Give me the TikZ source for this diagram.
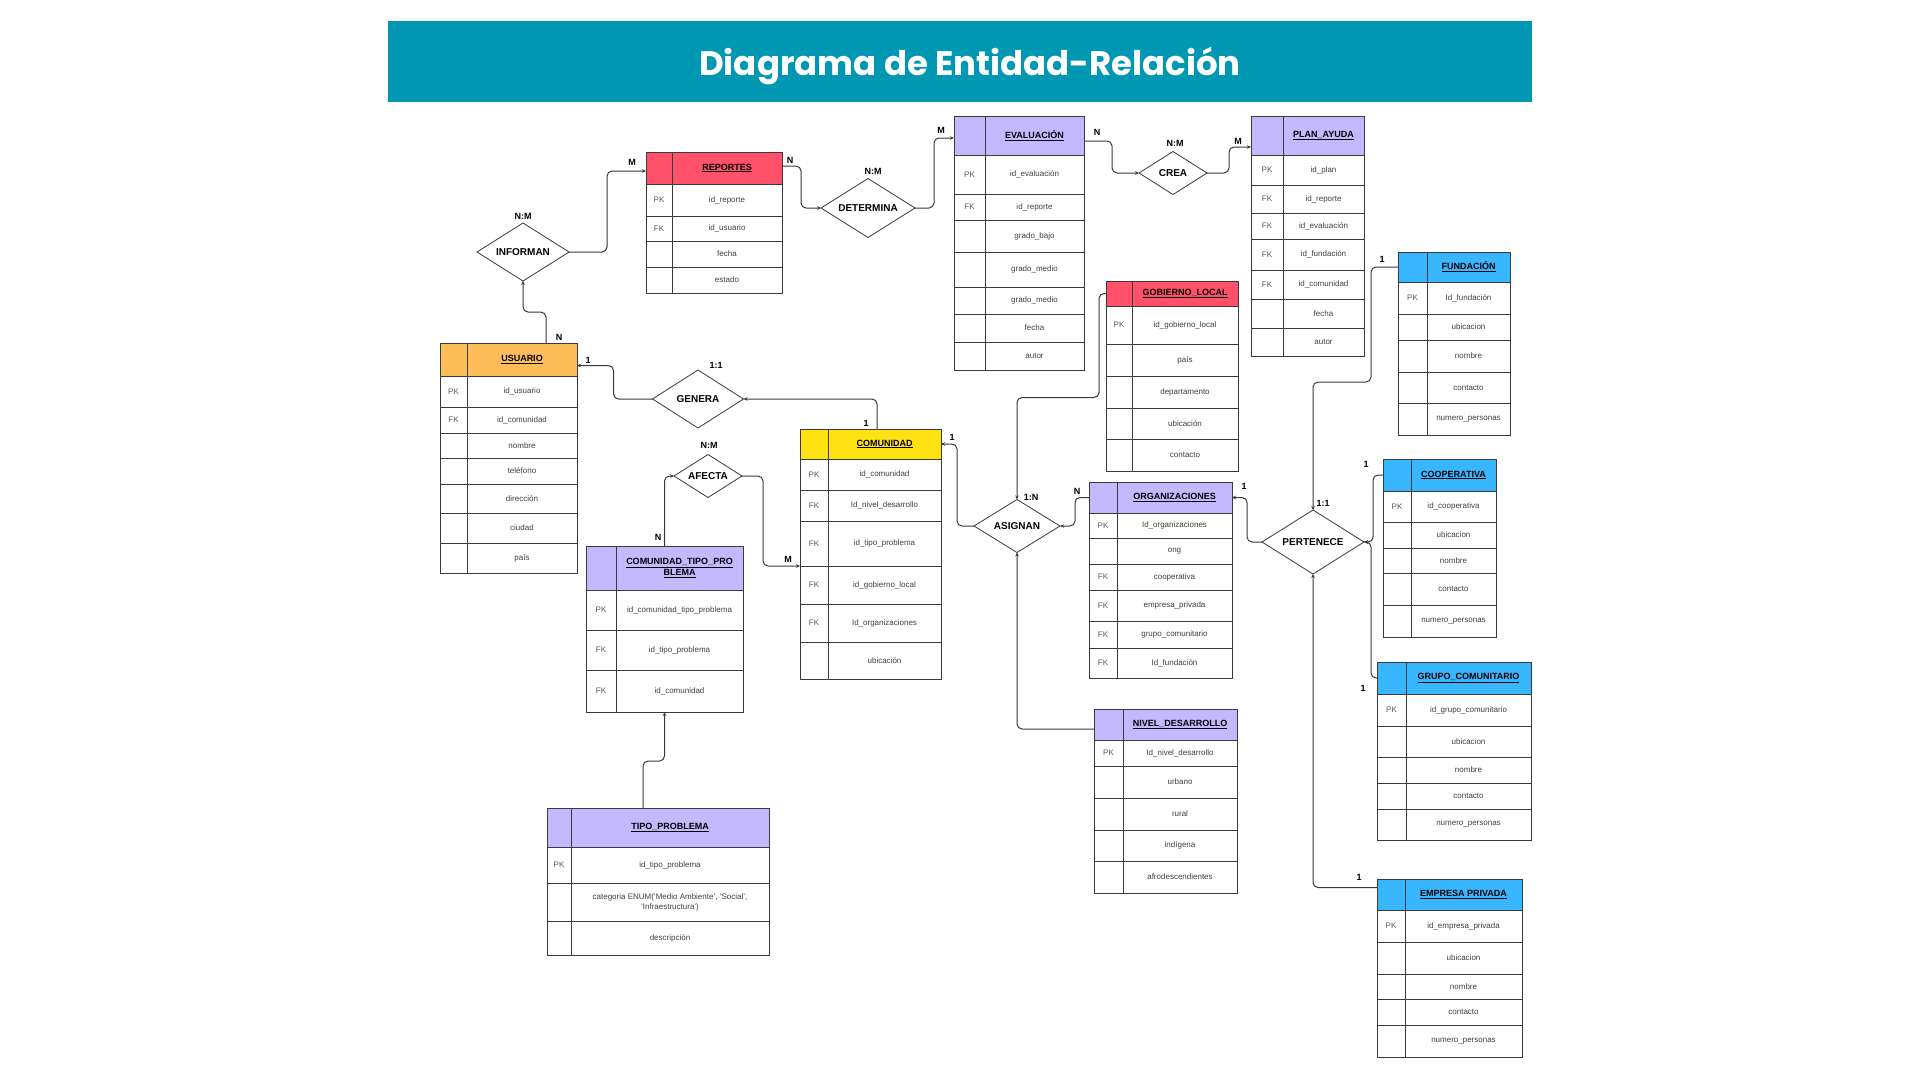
\documentclass[tikz,border=0pt]{standalone}
\usepackage{fontspec}
\setmainfont{Liberation Sans}
\newfontfamily\titlefont{Poppins}
\usetikzlibrary{shapes.geometric,arrows.meta,calc}
\definecolor{cTitle}{HTML}{0097B2}
\definecolor{cOrange}{HTML}{FFBD59}
\definecolor{cPink}{HTML}{FF5169}
\definecolor{cPurple}{HTML}{C4B8FF}
\definecolor{cYellow}{HTML}{FFE212}
\definecolor{cBlue}{HTML}{38B6FF}
\definecolor{cLine}{HTML}{3A3A3A}
\tikzset{
  hdrbox/.style={draw=cLine, line width=0.8pt, inner sep=0pt, outer sep=0pt},
  rowbox/.style={draw=cLine, fill=white, line width=0.8pt, inner sep=0pt, outer sep=0pt},
  tline/.style={draw=cLine, line width=0.8pt},
  hdrtxt/.style={font=\fontsize{9}{11}\selectfont\bfseries, align=center, text=black},
  rowtxt/.style={font=\fontsize{8}{10}\selectfont, text=black!75, align=center},
  keytxt/.style={font=\fontsize{8}{9}\selectfont, text=black!65},
  rel/.style={diamond, shape aspect=1.6, draw=cLine, fill=white, line width=0.8pt, inner sep=0pt, outer sep=0pt, font=\fontsize{10}{12}\selectfont\bfseries},
  card/.style={font=\fontsize{9}{10}\selectfont\bfseries},
  conn/.style={draw=cLine, line width=1pt, rounded corners=5pt, -{Stealth[length=4pt,width=3.5pt]}}
}
% #1 name, #2 x left, #3 x divider, #4 x right, #5 y top, #6 y header bottom, #7 colour, #8 title, #9 rows
\newcommand{\ertable}[9]{%
  \node[hdrbox, fill=#7, minimum width={(#4-#2)*1pt}, minimum height={(#6-#5)*1pt}] (#1) at ({(#2+#4)/2},{(#5+#6)/2}) {};
  \draw[tline] (#3,#5) -- (#3,#6);
  \node[hdrtxt] (#1-t) at ({(#3+#4)/2},{(#5+#6)/2}) {#8};
  \foreach \yb/\k/\t [remember=\yb as \ya (initially #6), count=\i] in {#9} {
    \node[rowbox, minimum width={(#4-#2)*1pt}, minimum height={(\yb-\ya)*1pt}] (#1-\i) at ({(#2+#4)/2},{(\ya+\yb)/2}) {};
    \draw[tline] (#3,\ya) -- (#3,\yb);
    \node[keytxt] (#1-k\i) at ({(#2+#3)/2},{(\ya+\yb)/2}) {\k};
    \node[rowtxt] (#1-v\i) at ({(#3+#4)/2},{(\ya+\yb)/2}) {\t};
  }
}
\begin{document}
\begin{tikzpicture}[x=1pt,y=-1pt]
\useasboundingbox (0,0) rectangle (1920,1080);
\fill[white] (0,0) rectangle (1920,1080);
% title
\fill[cTitle] (388,21) rectangle (1532,102);
\node[font=\titlefont\bfseries\fontsize{34}{40}\selectfont, text=white] (title) at (970,66) {Diagrama de Entidad-Relación};

% tables
\ertable{usuario}{440}{467}{577}{343}{376}{cOrange}{\underline{USUARIO}}
  {407/PK/id\_usuario, 433/FK/id\_comunidad, 458//nombre, 484//teléfono, 513//dirección, 543//ciudad, 573//país}
\ertable{reportes}{646}{672}{782}{152}{184}{cPink}{\underline{REPORTES}}
  {216/PK/id\_reporte, 241/FK/id\_usuario, 267//fecha, 293//estado}
\ertable{evaluacion}{954}{985}{1084}{116}{155}{cPurple}{\underline{EVALUACIÓN}}
  {194/PK/id\_evaluación, 220/FK/id\_reporte, 252//grado\_bajo, 287//grado\_medio, 314//grado\_medio, 342//fecha, 370//autor}
\ertable{plan}{1251}{1283}{1364}{116}{155}{cPurple}{\underline{PLAN\_AYUDA}}
  {185/PK/id\_plan, 213/FK/id\_reporte, 239/FK/id\_evaluación, 270/FK/id\_fundación, 299/FK/id\_comunidad, 328//fecha, 356//autor}
\ertable{gobierno}{1106}{1132}{1238}{281}{306}{cPink}{\underline{GOBIERNO\_LOCAL}}
  {344/PK/id\_gobierno\_local, 376//país, 408//departamento, 439//ubicación, 471//contacto}
\ertable{fundacion}{1398}{1427}{1510}{252}{282}{cBlue}{\underline{FUNDACIÓN}}
  {314/PK/Id\_fundación, 340//ubicacion, 372//nombre, 403//contacto, 435//numero\_personas}
\ertable{comunidad}{800}{828}{941}{429}{459}{cYellow}{\underline{COMUNIDAD}}
  {490/PK/id\_comunidad, 521/FK/Id\_nivel\_desarrollo, 566/FK/id\_tipo\_problema, 604/FK/id\_gobierno\_local, 642/FK/Id\_organizaciones, 679//ubicación}
\ertable{ctp}{586}{616}{743}{546}{590}{cPurple}{\underline{COMUNIDAD\_TIPO\_PRO}\\\underline{BLEMA}}
  {630/PK/id\_comunidad\_tipo\_problema, 670/FK/id\_tipo\_problema, 712/FK/id\_comunidad}
\ertable{tipo}{547}{571}{769}{808}{847}{cPurple}{\underline{TIPO\_PROBLEMA}}
  {883/PK/id\_tipo\_problema, 921//{categoria ENUM('Medio Ambiente', 'Social',\\'Infraestructura')}, 955//descripción}
\ertable{org}{1089}{1117}{1232}{482}{513}{cPurple}{\underline{ORGANIZACIONES}}
  {538/PK/Id\_organizaciones, 564//ong, 590/FK/cooperativa, 621/FK/empresa\_privada, 648/FK/grupo\_comunitario, 678/FK/Id\_fundación}
\ertable{nivel}{1094}{1123}{1237}{709}{740}{cPurple}{\underline{NIVEL\_DESARROLLO}}
  {766/PK/Id\_nivel\_desarrollo, 798//urbano, 830//rural, 861//indígena, 893//afrodescendientes}
\ertable{cooperativa}{1383}{1411}{1496}{459}{491}{cBlue}{\underline{COOPERATIVA}}
  {522/PK/id\_cooperativa, 548//ubicacion, 573//nombre, 605//contacto, 637//numero\_personas}
\ertable{grupo}{1377}{1406}{1531}{662}{694}{cBlue}{\underline{GRUPO\_COMUNITARIO}}
  {726/PK/id\_grupo\_comunitario, 757//ubicacion, 783//nombre, 809//contacto, 840//numero\_personas}
\ertable{empresa}{1377}{1405}{1522}{879}{910}{cBlue}{\underline{EMPRESA PRIVADA}}
  {942/PK/id\_empresa\_privada, 974//ubicacion, 999//nombre, 1025//contacto, 1057//numero\_personas}

% relationships
\node[rel, minimum width=92pt, minimum height=58pt] (informan) at (523,252) {INFORMAN};
\node[rel, minimum width=94pt, minimum height=59pt] (determina) at (868,208) {DETERMINA};
\node[rel, minimum width=68pt, minimum height=43pt] (crea) at (1173,173) {CREA};
\node[rel, minimum width=91pt, minimum height=58pt] (genera) at (698,399) {GENERA};
\node[rel, minimum width=68pt, minimum height=43pt] (afecta) at (708,476) {AFECTA};
\node[rel, minimum width=86pt, minimum height=53pt] (asignan) at (1017,526) {ASIGNAN};
\node[rel, minimum width=102pt, minimum height=64pt] (pertenece) at (1313,542) {PERTENECE};

\node[card] (r1) at (523,216) {N:M};
\node[card] (r2) at (873,171) {N:M};
\node[card] (r3) at (1175,143) {N:M};
\node[card] (r4) at (716,365) {1:1};
\node[card] (r5) at (709,445) {N:M};
\node[card] (r6) at (1031,497) {1:N};
\node[card] (r7) at (1323,503) {1:1};

% cardinalities
\node[card] (c1) at (632,162) {M};
\node[card] (c2) at (790,160) {N};
\node[card] (c3) at (941,130) {M};
\node[card] (c4) at (1097,132) {N};
\node[card] (c5) at (1238,141) {M};
\node[card] (c6) at (559,337) {N};
\node[card] (c7) at (588,360) {1};
\node[card] (c8) at (866,423) {1};
\node[card] (c9) at (952,437) {1};
\node[card] (c10) at (658,537) {N};
\node[card] (c11) at (788,559) {M};
\node[card] (c12) at (1077,491) {N};
\node[card] (c13) at (1244,486) {1};
\node[card] (c14) at (1382,259) {1};
\node[card] (c15) at (1366,464) {1};
\node[card] (c16) at (1363,688) {1};
\node[card] (c17) at (1359,877) {1};

% connectors
\draw[conn] (informan.east) -- ++(38,0) |- ([yshift=-3pt]reportes.west);
\draw[conn] ([xshift=37.5pt]usuario.north) -- ++(0,-31) -| (informan.south);
\draw[conn] ([yshift=2pt]reportes.east) -- ++(19,0) |- (determina.west);
\draw[conn] (determina.east) -- ++(19,0) |- ([yshift=-2.5pt]evaluacion.west);
\draw[conn] ([yshift=-5.5pt]evaluacion.east) -- ++(28,0) |- (crea.west);
\draw[conn] (crea.east) -- ++(22,0) |- ([yshift=-11.5pt]plan.west);
\draw[conn] (genera.west) -- ++(-39,0) |- ([yshift=-6pt]usuario.east);
\draw[conn] ([xshift=6.5pt]comunidad.north) |- (genera.east);
\draw[conn] (ctp.north) |- (afecta.west);
\draw[conn] (afecta.east) -- ++(21,0) |- (comunidad-4.north west);
\draw[conn] ([xshift=-15pt]tipo.north) -- ++(0,-47) -| (ctp-3.south);
\draw[conn] (asignan.west) -- ++(-17,0) |- (comunidad.east);
\draw[conn] (gobierno.west) -- ++(-7,0) -- ++(0,104) -| (asignan.north);
\draw[conn] ([yshift=-4.5pt]nivel.west) -| (asignan.south);
\draw[conn] (org.west) -- ++(-14,0) |- (asignan.east);
\draw[conn] (pertenece.west) -- ++(-15,0) |- (org.east);
\draw[conn] (fundacion.west) -- ++(-27,0) -- ++(0,115) -| (pertenece.north);
\draw[conn] (cooperativa.west) -- ++(-10,0) |- (pertenece.east);
\draw[conn] (grupo.west) -- ++(-6,0) |- (pertenece.east);
\draw[conn] ([yshift=7pt]empresa.west) -| (pertenece.south);
\end{tikzpicture}
\end{document}
